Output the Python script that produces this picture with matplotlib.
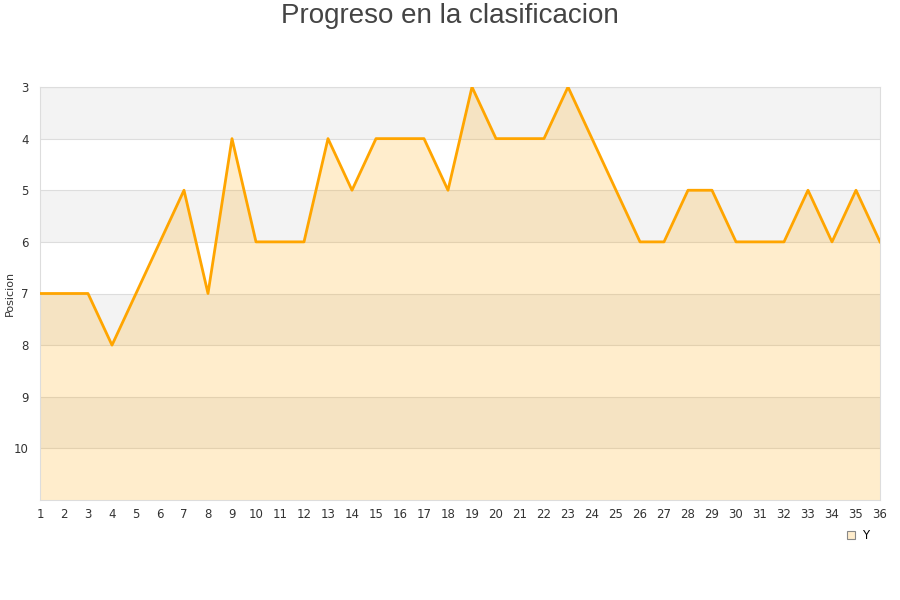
import matplotlib.pyplot as plt
from matplotlib.patches import Patch

# datos de la clasificacion por jornada
jornadas = list(range(1, 37))
posiciones = [7, 7, 7, 8, 7, 6, 5, 7, 4, 6, 6, 6, 4, 5, 4, 4, 4, 5, 3, 4,
              4, 4, 3, 4, 5, 6, 6, 5, 5, 6, 6, 6, 5, 6, 5, 6]
y_ticks = [3, 4, 5, 6, 7, 8, 9, 10]

fig = plt.figure(figsize=(9, 6), dpi=100)
ax = fig.add_axes([40 / 900, 100 / 600, 840 / 900, 413 / 600])

# bandas alternas de fondo
for i, y0 in enumerate(range(3, 11)):
    if i % 2 == 0:
        ax.axhspan(y0, y0 + 1, color='#f3f3f3', zorder=0, lw=0)

ax.fill_between(jornadas, posiciones, 11, color='#ffa500', alpha=0.2, lw=0, zorder=1)
ax.plot(jornadas, posiciones, color='#ffa500', lw=2, zorder=3)

ax.set_xlim(1, 36)
ax.set_ylim(11, 3)
ax.set_xticks(jornadas)
ax.set_yticks(y_ticks)
ax.tick_params(length=0, labelsize=8.5, colors='#333333')
ax.tick_params(axis='x', pad=6)
ax.tick_params(axis='y', pad=8)
ax.grid(axis='y', color='#dddddd', lw=0.8, zorder=0.5)
ax.set_axisbelow(True)
for s in ax.spines.values():
    s.set_color('#dddddd')
ax.set_ylabel('Posicion', fontsize=8, color='#333333', va='center')
ax.yaxis.set_label_coords(-0.036, 0.5)

fig.suptitle('Progreso en la clasificacion', fontsize=20, color='#444444', y=0.995,
             family='Liberation Sans')

handle = Patch(facecolor='#ffedcc', edgecolor='#888888', lw=0.8)
ax.legend([handle], ['Y'], loc='upper right', bbox_to_anchor=(1.0, -0.045),
          frameon=False, fontsize=8.5, handlelength=0.7, handleheight=0.7,
          handletextpad=0.6)

fig.savefig('out.png')
